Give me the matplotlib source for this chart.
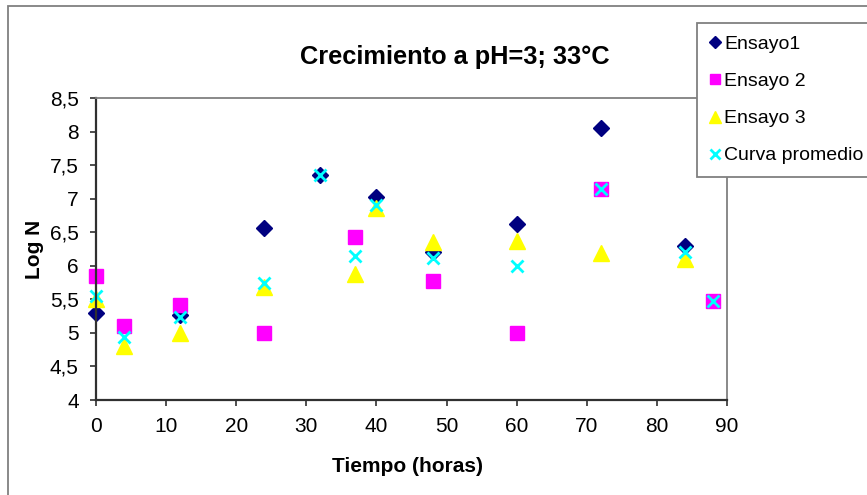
import matplotlib.pyplot as plt
from matplotlib.patches import Rectangle

plt.rcParams['font.family'] = ['Liberation Sans', 'DejaVu Sans']

# Log N readings per trial (time in hours)
t_ensayo1 = [0, 12, 24, 32, 40, 48, 60, 72, 84]
n_ensayo1 = [5.30, 5.27, 6.56, 7.36, 7.02, 6.20, 6.62, 8.05, 6.29]

t_ensayo2 = [0, 4, 12, 24, 37, 48, 60, 72, 88]
n_ensayo2 = [5.85, 5.10, 5.41, 5.00, 6.43, 5.77, 5.00, 7.14, 5.47]

t_ensayo3 = [0, 4, 12, 24, 37, 40, 48, 60, 72, 84]
n_ensayo3 = [5.50, 4.80, 5.00, 5.68, 5.88, 6.86, 6.35, 6.37, 6.19, 6.10]

t_prom = [0, 4, 12, 24, 32, 37, 40, 48, 60, 72, 84, 88]
n_prom = [5.55, 4.94, 5.24, 5.75, 7.35, 6.15, 6.90, 6.11, 5.99, 7.14, 6.21, 5.47]

W, H = 867, 495
fig = plt.figure(figsize=(W / 100, H / 100), dpi=100)

# chart area border (runs off the right and bottom edges)
fig.patches.append(Rectangle((8 / W, -0.1), 1.2, 1 - 6 / H + 0.1,
                             transform=fig.transFigure, fill=False,
                             edgecolor='#808080', linewidth=1.3))

ax = fig.add_axes([96 / W, (H - 400) / H, (727 - 96) / W, (400 - 98) / H])

ax.plot(t_ensayo1, n_ensayo1, linestyle='none', marker='D', ms=8,
        color='#000080', label='Ensayo1', clip_on=False)
ax.plot(t_ensayo2, n_ensayo2, linestyle='none', marker='s', ms=10.5,
        color='#FF00FF', label='Ensayo 2', clip_on=False)
ax.plot(t_ensayo3, n_ensayo3, linestyle='none', marker='^', ms=11,
        color='#FFFF00', label='Ensayo 3', clip_on=False)
ax.plot(t_prom, n_prom, linestyle='none', marker='x', ms=9, mew=2,
        color='#00FFFF', label='Curva promedio', clip_on=False)

ax.set_xlim(0, 90)
ax.set_ylim(4, 8.5)
ax.set_xticks(range(0, 91, 10))
yt = [4 + 0.5 * i for i in range(10)]
ax.set_yticks(yt)
ax.set_yticklabels([f"{v:g}".replace('.', ',') for v in yt])
ax.tick_params(direction='out', length=4.5, width=1.2, color='#303030',
               labelsize=15)
ax.tick_params(axis='x', pad=8)
ax.tick_params(axis='y', pad=8)

for side in ['left', 'bottom']:
    ax.spines[side].set_color('#303030')
    ax.spines[side].set_linewidth(1.6)
for side in ['top', 'right']:
    ax.spines[side].set_color('#808080')
    ax.spines[side].set_linewidth(1.3)

fig.text(455 / W, 1 - 57 / H, 'Crecimiento a pH=3; 33°C', fontsize=18.3,
         fontweight='bold', ha='center', va='center')
fig.text(407 / W, 1 - 467 / H, 'Tiempo (horas)', fontsize=15,
         fontweight='bold', ha='center', va='center')
fig.text(35 / W, 1 - 249 / H, 'Log N', fontsize=15, fontweight='bold',
         ha='center', va='center', rotation=90)

leg = fig.legend(loc='upper left', bbox_to_anchor=(697 / W, 1 - 23 / H),
                 borderaxespad=0, fontsize=14, fancybox=False,
                 edgecolor='#808080', framealpha=1, handlelength=0.5,
                 handletextpad=0.25, labelspacing=1.0, borderpad=0.65,
                 markerscale=0.75)
leg.get_frame().set_linewidth(1.3)

fig.savefig('out.png', dpi=100)
